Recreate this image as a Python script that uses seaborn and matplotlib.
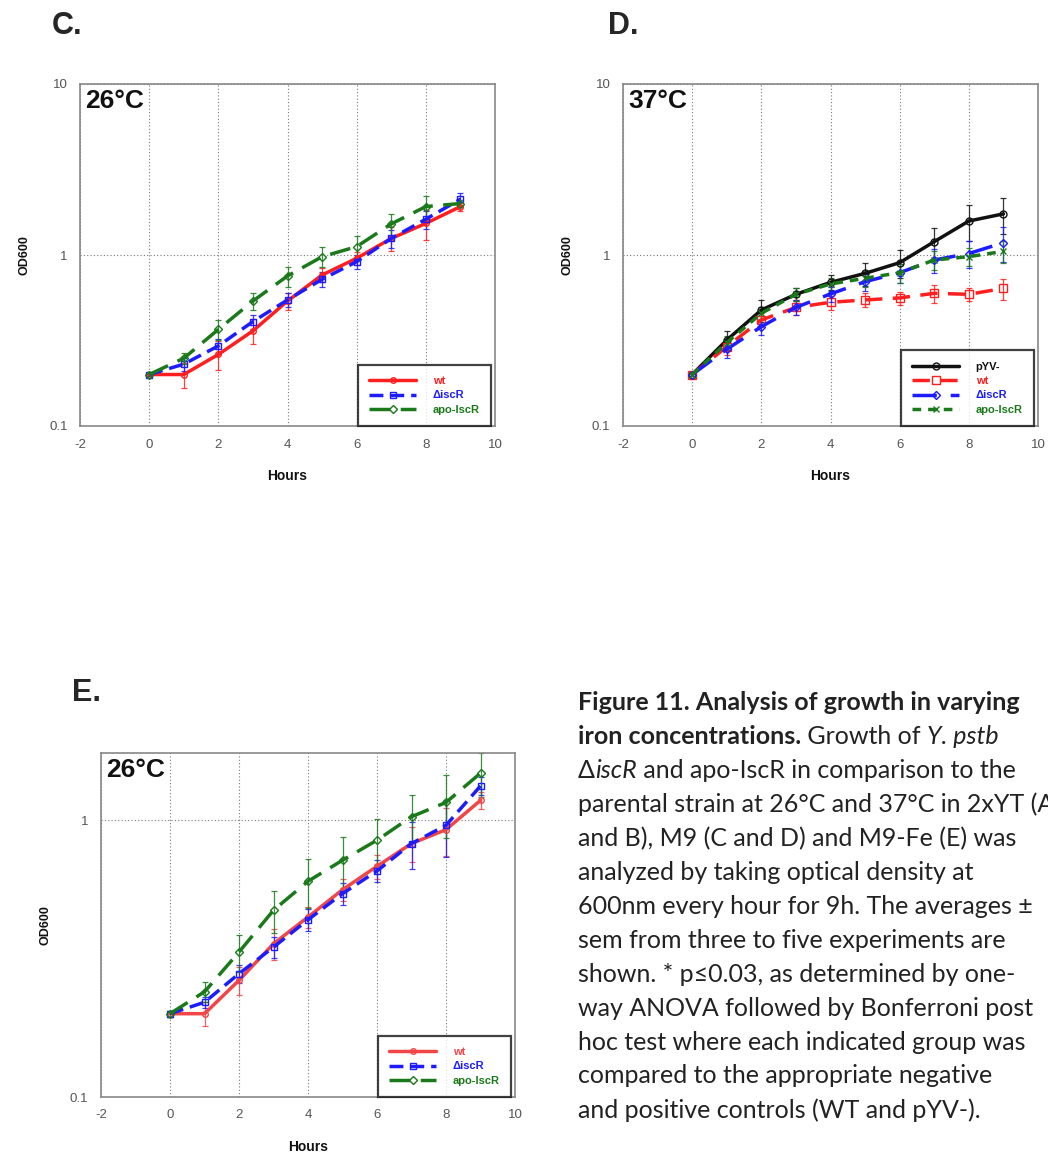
import matplotlib
matplotlib.use("Agg")
import matplotlib.pyplot as plt
import matplotlib.ticker as mticker
import seaborn as sns

# ---------------- data ----------------
hours = [0, 1, 2, 3, 4, 5, 6, 7, 8, 9]

# Panel C (M9, 26°C)
c_wt = [0.20, 0.20, 0.262, 0.36, 0.538, 0.764, 0.957, 1.25, 1.53, 1.92]
c_wt_sem = [0.005, 0.034, 0.05, 0.06, 0.06, 0.07, 0.08, 0.2, 0.3, 0.1]
c_isc = [0.20, 0.23, 0.294, 0.408, 0.546, 0.721, 0.914, 1.25, 1.62, 2.12]
c_isc_sem = [0.005, 0.02, 0.03, 0.04, 0.05, 0.07, 0.09, 0.15, 0.2, 0.2]
c_apo = [0.20, 0.249, 0.367, 0.538, 0.754, 0.977, 1.12, 1.52, 1.92, 2.0]
c_apo_sem = [0.005, 0.02, 0.05, 0.06, 0.1, 0.13, 0.17, 0.22, 0.3, 0.1]

# Panel D (M9, 37°C)
d_pyv = [0.20, 0.318, 0.477, 0.589, 0.692, 0.781, 0.902, 1.197, 1.58, 1.74]
d_pyv_sem = [0.005, 0.04, 0.07, 0.05, 0.07, 0.12, 0.17, 0.25, 0.38, 0.42]
d_wt = [0.20, 0.291, 0.417, 0.494, 0.529, 0.546, 0.561, 0.597, 0.589, 0.638]
d_wt_sem = [0.005, 0.03, 0.04, 0.05, 0.05, 0.05, 0.05, 0.07, 0.05, 0.09]
d_isc = [0.20, 0.281, 0.381, 0.494, 0.592, 0.698, 0.788, 0.935, 1.02, 1.18]
d_isc_sem = [0.005, 0.03, 0.04, 0.05, 0.06, 0.08, 0.1, 0.15, 0.18, 0.27]
d_apo = [0.20, 0.307, 0.456, 0.589, 0.677, 0.731, 0.788, 0.935, 0.978, 1.05]
d_apo_sem = [0.005, 0.03, 0.04, 0.05, 0.06, 0.08, 0.1, 0.12, 0.12, 0.15]

# Panel E (M9-Fe, 26°C)
e_wt = [0.20, 0.20, 0.264, 0.358, 0.447, 0.561, 0.682, 0.824, 0.925, 1.18]
e_wt_sem = [0.005, 0.02, 0.03, 0.045, 0.04, 0.05, 0.07, 0.12, 0.18, 0.08]
e_isc = [0.20, 0.22, 0.279, 0.348, 0.437, 0.543, 0.656, 0.824, 0.959, 1.33]
e_isc_sem = [0.005, 0.01, 0.02, 0.03, 0.04, 0.05, 0.06, 0.16, 0.22, 0.1]
e_apo = [0.20, 0.24, 0.334, 0.473, 0.602, 0.717, 0.847, 1.03, 1.16, 1.48]
e_apo_sem = [0.005, 0.02, 0.05, 0.08, 0.12, 0.15, 0.16, 0.2, 0.3, 0.27]

x_ticks = [-2, 0, 2, 4, 6, 8, 10]
y_ticks = [0.1, 1, 10]
y_tick_labels = ["0.1", "1", "10"]

caption = [
    [("Figure 11. Analysis of growth in varying", "bold")],
    [("iron concentrations.", "bold"), (" Growth of ", "normal"), ("Y. pstb", "italic")],
    [("Δ", "normal"), ("iscR", "italic"), (" and apo-IscR in comparison to the", "normal")],
    [("parental strain at 26°C and 37°C in 2xYT (A", "normal")],
    [("and B), M9 (C and D) and M9-Fe (E) was", "normal")],
    [("analyzed by taking optical density at", "normal")],
    [("600nm every hour for 9h. The averages ±", "normal")],
    [("sem from three to five experiments are", "normal")],
    [("shown. * p≤0.03, as determined by one-", "normal")],
    [("way ANOVA followed by Bonferroni post", "normal")],
    [("hoc test where each indicated group was", "normal")],
    [("compared to the appropriate negative", "normal")],
    [("and positive controls (WT and pYV-).", "normal")],
]

# ---------------- style ----------------
sns.set_theme(style="white")
plt.rcParams["font.family"] = ["Liberation Sans", "DejaVu Sans"]

RED = "#ff1f1f"
RED_E = "#f24545"
BLUE = "#1c1cff"
GREEN = "#1a7a1a"
BLACK = "#111111"

fig = plt.figure(figsize=(10.48, 11.54), dpi=100)
W, H = 1048.0, 1154.0


def add_ax(x0, y0, x1, y1):
    return fig.add_axes([x0 / W, 1 - y1 / H, (x1 - x0) / W, (y1 - y0) / H])


def series(ax, y, sem, color, ls, marker, label, ms=5):
    ax.errorbar(hours, y, yerr=sem, fmt="none", ecolor=color, elinewidth=0.9,
                capsize=2, capthick=0.9, alpha=0.85, label="_nolegend_", zorder=2)
    sns.lineplot(x=hours, y=y, ax=ax, color=color, linestyle=ls, lw=2.5,
                 marker=marker, markersize=ms, markerfacecolor="none",
                 markeredgecolor=color, markeredgewidth=1.0, label=label, zorder=3)


def style_ax(ax, temp, ylim, yt, ytl):
    ax.set_yscale("log")
    ax.set_xlim(-2, 10)
    ax.set_ylim(*ylim)
    ax.xaxis.set_major_locator(mticker.FixedLocator(x_ticks))
    ax.yaxis.set_major_locator(mticker.FixedLocator(yt))
    ax.yaxis.set_minor_locator(mticker.NullLocator())
    ax.set_yticklabels(ytl)
    ax.set_xticklabels([str(t) for t in x_ticks])
    ax.tick_params(axis="both", labelsize=9.5, colors="#555555", length=0, pad=9)
    ax.grid(True, which="major", color="#777777", linestyle=(0, (1, 2)), linewidth=0.8)
    for s in ax.spines.values():
        s.set_color("#888888")
        s.set_linewidth(1.2)
    ax.set_xlabel("Hours", fontsize=10, fontweight="bold", labelpad=13, color="#111111")
    ax.set_ylabel("OD600", fontsize=9, fontweight="bold", labelpad=13, color="#111111")
    ax.text(0.012, 0.985, temp, transform=ax.transAxes, ha="left", va="top",
            fontsize=19, fontweight="bold", color="#111111")


def legend(ax, anchor_x=0.99):
    leg = ax.legend(loc="lower right", bbox_to_anchor=(anchor_x, 0.0),
                    frameon=True, fancybox=False, borderaxespad=0, handlelength=4.2,
                    handletextpad=1.5, borderpad=1.0, labelspacing=0.4,
                    prop={"weight": "bold", "size": 8})
    leg.get_frame().set_edgecolor("#111111")
    leg.get_frame().set_linewidth(1.6)
    for line, txt in zip(leg.get_lines(), leg.get_texts()):
        txt.set_color(line.get_color())
    return leg


# Panel C
axC = add_ax(80, 84, 495, 426)
series(axC, c_wt, c_wt_sem, RED, "-", "o", "wt", ms=4)
series(axC, c_isc, c_isc_sem, BLUE, (0, (4, 2)), "s", "ΔiscR")
series(axC, c_apo, c_apo_sem, GREEN, (0, (6, 3)), "D", "apo-IscR", ms=4)
style_ax(axC, "26°C", (0.1, 10), y_ticks, y_tick_labels)
legend(axC, 0.99)

# Panel D
axD = add_ax(623, 84, 1038, 426)
series(axD, d_pyv, d_pyv_sem, BLACK, "-", "o", "pYV-", ms=5)
series(axD, d_wt, d_wt_sem, RED, (0, (5, 3)), "s", "wt", ms=6)
series(axD, d_isc, d_isc_sem, BLUE, (0, (7, 4)), "D", "ΔiscR", ms=4)
series(axD, d_apo, d_apo_sem, GREEN, (0, (2.5, 2)), "x", "apo-IscR", ms=4)
style_ax(axD, "37°C", (0.1, 10), y_ticks, y_tick_labels)
legend(axD, 0.99)

# Panel E
axE = add_ax(101, 753, 515, 1097)
series(axE, e_wt, e_wt_sem, RED_E, "-", "o", "wt", ms=4)
series(axE, e_isc, e_isc_sem, BLUE, (0, (4, 2)), "s", "ΔiscR")
series(axE, e_apo, e_apo_sem, GREEN, (0, (6, 3)), "D", "apo-IscR", ms=4)
style_ax(axE, "26°C", (0.1, 1.75), y_ticks[:2], y_tick_labels[:2])
legend(axE, 0.99)

# Panel letters
fig.text(52 / W, 1 - 26 / H, "C.", fontsize=22, fontweight="bold", va="center", ha="left")
fig.text(608 / W, 1 - 26 / H, "D.", fontsize=22, fontweight="bold", va="center", ha="left")
fig.text(72 / W, 1 - 693 / H, "E.", fontsize=22, fontweight="bold", va="center", ha="left")

# Caption
renderer = fig.canvas.get_renderer()
cap_font = ["Lato", "DejaVu Sans"]
x_start = 578
y0 = 703
dy = 33.9
for i, line in enumerate(caption):
    x = x_start
    y = y0 + i * dy
    for txt, style in line:
        kw = dict(fontsize=18, family=cap_font, color="#222222", va="center", ha="left")
        if style == "bold":
            kw["fontweight"] = "bold"
        elif style == "italic":
            kw["fontstyle"] = "italic"
        t = fig.text(x / W, 1 - y / H, txt, **kw)
        bb = t.get_window_extent(renderer=renderer)
        x += bb.width

fig.savefig("out.png", dpi=100)
